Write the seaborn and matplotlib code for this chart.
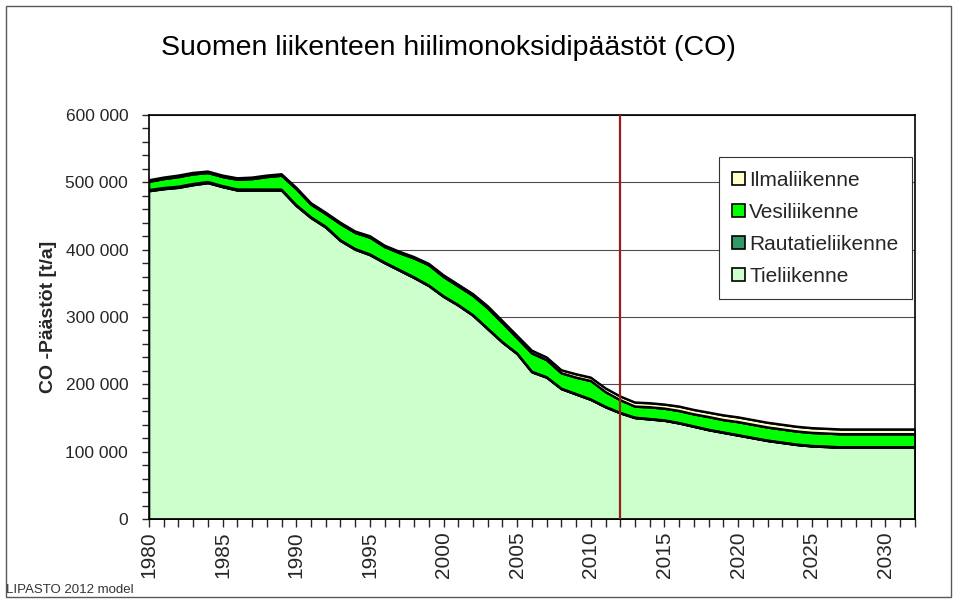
import matplotlib
matplotlib.use("Agg")
import matplotlib.pyplot as plt
from matplotlib.ticker import MultipleLocator, FuncFormatter
from matplotlib.patches import Rectangle
import numpy as np
import pandas as pd
import seaborn as sns

# vuodet 1980-2032, arvot tonnia/vuosi (luettu kuvasta)
years = list(range(1980, 2033))

tie = [487, 490, 492, 496, 499, 493, 488, 488, 488, 488,
       465, 447, 433, 413, 400, 392, 380, 369, 358, 346,
       330, 317, 302, 282, 262, 245, 218, 210, 193, 185,
       177, 166, 157, 150, 148, 146, 142, 137, 132, 128,
       124, 120, 116, 113, 110, 108, 107, 106, 106, 106,
       106, 106, 106]
rautatie = [1.5, 1.5, 1.5, 1.5, 1.5, 1.4, 1.4, 1.3, 1.3, 1.2,
            1.2, 1.1, 1.1, 1.0, 1.0, 1.0, 0.9, 0.9, 0.9, 0.8,
            0.8, 0.8, 0.8, 0.7, 0.7, 0.7, 0.7, 0.6, 0.6, 0.6,
            0.6, 0.6, 0.6, 0.5, 0.5, 0.5, 0.5, 0.5, 0.5, 0.5,
            0.5, 0.5, 0.5, 0.5, 0.5, 0.5, 0.5, 0.5, 0.5, 0.5,
            0.5, 0.5, 0.5]
ilma = [2.0, 2.0, 2.0, 2.0, 2.0, 2.0, 2.0, 2.0, 2.0, 2.0,
        2.0, 2.0, 2.0, 2.0, 2.0, 2.0, 2.0, 2.0, 2.0, 2.0,
        2.5, 2.5, 2.5, 3.0, 3.0, 3.5, 4.0, 4.0, 4.5, 5.0,
        5.0, 5.5, 5.5, 6.0, 6.0, 6.0, 6.5, 6.5, 6.5, 7.0,
        7.0, 7.0, 7.0, 7.0, 7.0, 7.0, 7.0, 7.0, 7.0, 7.0,
        7.0, 7.0, 7.0]
total = [503, 507, 510, 514, 516, 510, 506, 507, 510, 512,
         492, 469, 455, 440, 427, 420, 406, 397, 389, 379,
         362, 348, 334, 316, 294, 272, 250, 240, 221, 215,
         210, 194, 182, 173, 172, 170, 167, 162, 158, 154,
         151, 147, 143, 140, 137, 135, 134, 133, 133, 133,
         133, 133, 133]

tie = np.array(tie) * 1000
rautatie = np.array(rautatie) * 1000
ilma = np.array(ilma) * 1000
vesi = np.array(total) * 1000 - tie - rautatie - ilma

labels = ["Tieliikenne", "Rautatieliikenne", "Vesiliikenne", "Ilmaliikenne"]
colors = ["#CCFFCC", "#339966", "#00FF00", "#FFFFCC"]

sns.set_style("white")
plt.rcParams["font.family"] = ["Liberation Sans", "DejaVu Sans"]

fig = plt.figure(figsize=(9.55, 6.01), dpi=100)
ax = fig.add_axes([0.156, 0.1364, 0.802, 0.6723])

ax.stackplot(years, tie, rautatie, vesi, ilma, colors=colors, labels=labels,
             edgecolor="none")

# reunaviivat kumulatiivisille summille
cum = np.cumsum(np.vstack([tie, rautatie, vesi, ilma]), axis=0)
edges = pd.DataFrame({"vuosi": np.tile(years, 4),
                      "arvo": cum.ravel(),
                      "sarja": np.repeat(labels, len(years))})
sns.lineplot(data=edges, x="vuosi", y="arvo", units="sarja", estimator=None,
             color="black", lw=1.7, ax=ax, legend=False)

ax.axvline(2012, color="#9B1C1C", lw=1.6, zorder=5)

ax.set_xlim(1980, 2032)
ax.set_ylim(0, 600000)
ax.set_axisbelow(True)
ax.yaxis.grid(True, color="0.3", lw=0.8)
ax.xaxis.grid(False)

ax.xaxis.set_major_locator(MultipleLocator(5))
ax.xaxis.set_minor_locator(MultipleLocator(1))
ax.yaxis.set_major_locator(MultipleLocator(100000))
ax.yaxis.set_minor_locator(MultipleLocator(20000))
ax.yaxis.set_major_formatter(FuncFormatter(lambda v, p: f"{int(v):,}".replace(",", " ")))
ax.tick_params(axis="x", which="both", direction="out", length=6, width=1,
               bottom=True, labelsize=15, labelrotation=90, pad=3)
ax.tick_params(axis="y", which="both", direction="out", length=5, width=1,
               left=True, labelsize=12.5, pad=10)
for s in ax.spines.values():
    s.set_color("black")
    s.set_linewidth(1.2)

ax.set_xlabel("")
ax.set_ylabel("CO -Päästöt [t/a]", fontsize=14, fontweight="bold", labelpad=6)

h, l = ax.get_legend_handles_labels()
for p in h:
    p.set_edgecolor("black")
    p.set_linewidth(1.2)
leg = ax.legend(h[::-1], l[::-1], loc="upper right", bbox_to_anchor=(0.996, 0.895),
                fontsize=15, frameon=True, fancybox=False, handlelength=0.6,
                handleheight=0.6, handletextpad=0.2, labelspacing=0.62,
                borderpad=0.65, borderaxespad=0, framealpha=1)
leg.get_frame().set_edgecolor("0.2")
leg.get_frame().set_linewidth(0.8)

fig.text(0.47, 0.92, "Suomen liikenteen hiilimonoksidipäästöt (CO)",
         fontsize=20.5, ha="center", va="center", color="black")
fig.text(0.006, 0.018, "LIPASTO 2012 model", fontsize=9.5, ha="left",
         va="center", color="0.2")
fig.patches.append(Rectangle((0.006, 0.006), 0.99, 0.984, transform=fig.transFigure,
                             fill=False, edgecolor="0.35", lw=1))

fig.savefig("out.png", dpi=100)
